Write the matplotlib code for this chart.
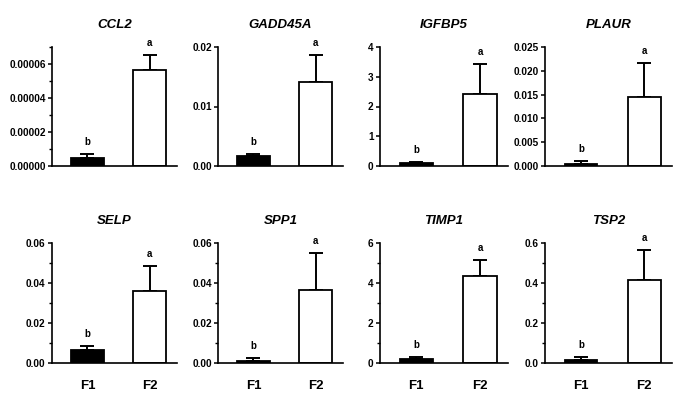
import numpy as np
import matplotlib
matplotlib.use('Agg')
import matplotlib.pyplot as plt
from matplotlib.ticker import MultipleLocator, FormatStrFormatter

# Data
genes = ['CCL2', 'GADD45A', 'IGFBP5', 'PLAUR', 'SELP', 'SPP1', 'TIMP1', 'TSP2']
groups = ['F1', 'F2']
f1_mean = [4.8e-6, 0.0017, 0.09, 0.0004, 0.0066, 0.0011, 0.18, 0.017]
f1_sem = [2.0e-6, 0.0003, 0.06, 0.0007, 0.0018, 0.0013, 0.14, 0.013]
f2_mean = [5.65e-5, 0.0141, 2.42, 0.0144, 0.036, 0.0365, 4.33, 0.413]
f2_sem = [0.9e-5, 0.0046, 1.02, 0.0073, 0.0123, 0.0183, 0.82, 0.15]
letters = ['b', 'a']

# axis settings per panel
ymax = [0.00007, 0.02, 4, 0.025, 0.06, 0.06, 6, 0.6]
major = [0.00002, 0.01, 1, 0.005, 0.02, 0.02, 2, 0.2]
minor = [0.00001, None, None, None, 0.01, 0.01, 1, 0.1]
fmt = ['%.5f', '%.2f', '%.0f', '%.3f', '%.2f', '%.2f', '%.0f', '%.1f']

plt.rcParams['font.family'] = ['Liberation Sans', 'DejaVu Sans']
plt.rcParams['font.weight'] = 'bold'

W, H = 685, 412
fig = plt.figure(figsize=(W / 100, H / 100), dpi=100)

# panel boxes in pixels (left, right, top, bottom)
lefts = [52, 218, 380, 545]
rights = [177, 343, 508, 672]
rows = [(47, 166), (243, 363)]

for i, g in enumerate(genes):
    r, c = divmod(i, 4)
    top, bot = rows[r]
    ax = fig.add_axes([lefts[c] / W, 1 - bot / H,
                       (rights[c] - lefts[c]) / W, (bot - top) / H])
    x = np.arange(2)
    means = [f1_mean[i], f2_mean[i]]
    sems = [f1_sem[i], f2_sem[i]]
    ax.bar(x, means, width=0.52, color=['black', 'white'],
           edgecolor='black', linewidth=1.3, zorder=2)
    ax.errorbar(x, means, yerr=[[0, 0], sems], fmt='none', ecolor='black',
                elinewidth=1.4, capsize=5, capthick=1.4, zorder=1)
    for xi, m, s, lab in zip(x, means, sems, letters):
        ax.annotate(lab, (xi, m + s), xytext=(0, 5), textcoords='offset points',
                    ha='center', va='bottom', fontsize=7, fontweight='bold')
    ax.set_xlim(-0.57, 1.44)
    ax.set_ylim(0, ymax[i])
    ax.yaxis.set_major_locator(MultipleLocator(major[i]))
    if minor[i]:
        ax.yaxis.set_minor_locator(MultipleLocator(minor[i]))
    ax.yaxis.set_major_formatter(FormatStrFormatter(fmt[i]))
    ax.spines['top'].set_visible(False)
    ax.spines['right'].set_visible(False)
    ax.spines['left'].set_linewidth(1.2)
    ax.spines['bottom'].set_linewidth(1.2)
    ax.tick_params(axis='y', direction='out', length=3, width=1.1,
                   labelsize=7.2, pad=1.5)
    ax.tick_params(axis='y', which='minor', length=2.5, width=1.0)
    ax.set_xticks(x)
    if r == 1:
        ax.set_xticklabels(groups, fontsize=9.5, fontweight='bold')
        ax.tick_params(axis='x', length=0, pad=12)
    else:
        ax.set_xticklabels([])
        ax.tick_params(axis='x', length=0)
    for t in ax.get_yticklabels():
        t.set_fontweight('bold')
    ax.set_title(g, fontsize=9.5, fontweight='bold', style='italic', pad=14)

fig.savefig('out.png', dpi=100)
